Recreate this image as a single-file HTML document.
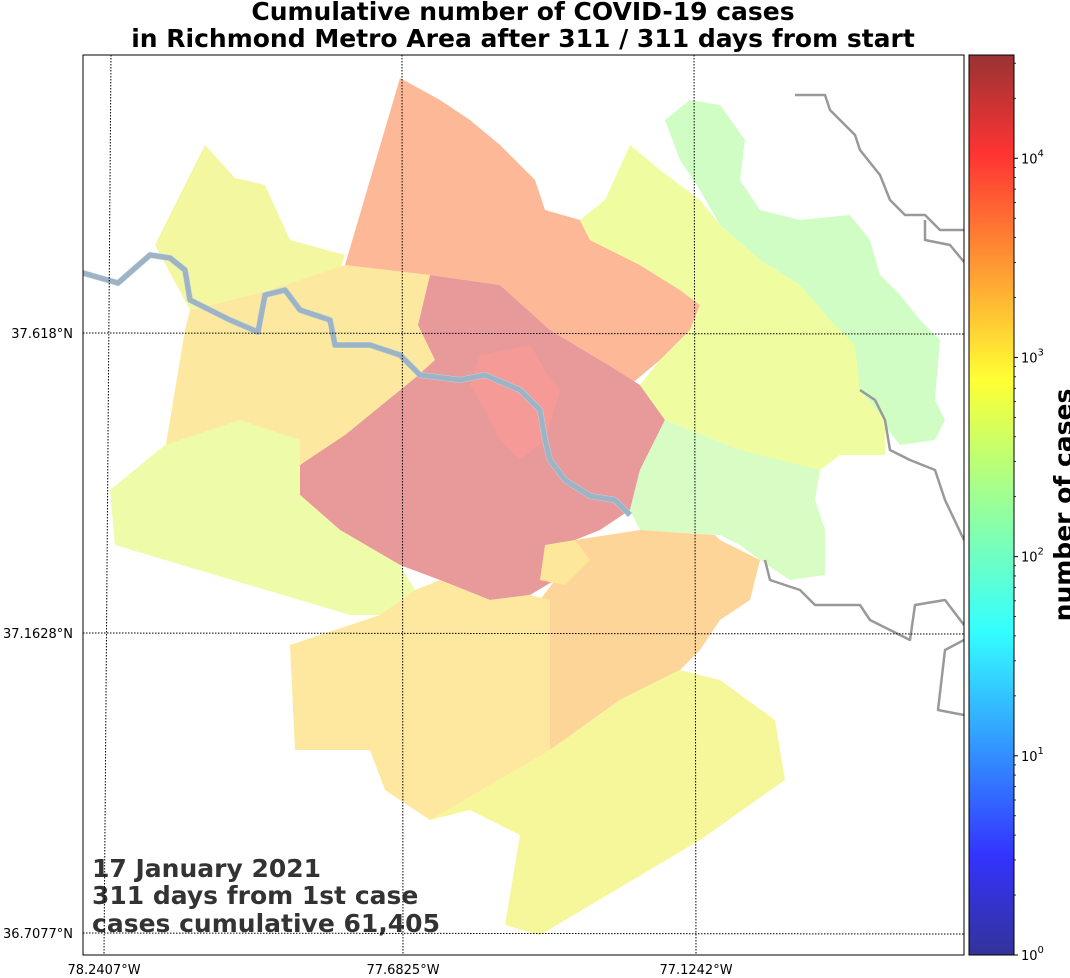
<!DOCTYPE html>
<html><head><meta charset="utf-8"><style>
body{margin:0;background:#fff;width:1070px;height:974px;overflow:hidden;font-family:"DejaVu Sans","Liberation Sans",sans-serif}
svg text{font-family:"DejaVu Sans","Liberation Sans",sans-serif}
</style></head><body>
<svg width="1070" height="974" viewBox="0 0 1070 974" xmlns="http://www.w3.org/2000/svg">
<defs>
<linearGradient id="jet" x1="0" y1="1" x2="0" y2="0">
<stop offset="0" stop-color="#00007f"/><stop offset="0.11" stop-color="#0000ff"/><stop offset="0.36" stop-color="#00ffff"/><stop offset="0.5" stop-color="#7fff7f"/><stop offset="0.64" stop-color="#ffff00"/><stop offset="0.89" stop-color="#ff0000"/><stop offset="1" stop-color="#7f0000"/>
</linearGradient>
<clipPath id="mapclip"><rect x="83" y="55" width="881" height="900"/></clipPath>
</defs>
<text x="523" y="20" text-anchor="middle" font-size="25" font-weight="bold">Cumulative number of COVID-19 cases</text>
<text x="523" y="47" text-anchor="middle" font-size="25" font-weight="bold">in Richmond Metro Area after 311 / 311 days from start</text>
<g id="map" clip-path="url(#mapclip)"></g>
<rect x="83" y="55" width="881" height="900" fill="none" stroke="#000" stroke-width="1"/>
<g id="cb">
<rect x="969" y="55" width="45" height="900" fill="url(#jet)" opacity="0.8"/>
<rect x="969" y="55" width="45" height="900" fill="none" stroke="#000"/>
</g>
<text transform="translate(1072,505) rotate(-90)" text-anchor="middle" font-size="25" font-weight="bold">number of cases</text>
<g fill="#333" font-size="25" font-weight="bold">
<text x="92" y="877">17 January 2021</text>
<text x="92" y="904">311 days from 1st case</text>
<text x="92" y="932">cases cumulative 61,405</text>
</g>
</svg>
<script>
const counties=["Goochland-N","Goochland-S","Hanover","Henrico","Richmond","Powhatan","King William","New Kent","Charles City","Prince George","Dinwiddie","Sussex","Petersburg"];
const fills=["#f3f7a0","#fde8a0","#fdb898","#e89a9a","#f59a96","#eefba8","#d0fdc4","#effda0","#d7fcc4","#fed598","#fee8a0","#f6f79a","#fde79a"];
const shapes=[
"205,145 235,178 265,185 290,240 345,255 340,270 270,290 190,310 155,245",
"190,310 270,290 345,265 430,275 418,325 435,360 415,378 345,435 305,465 250,455 165,450 185,330",
"400,78 440,100 470,120 500,145 535,180 545,210 580,220 590,240 640,265 680,290 700,305 690,330 660,360 630,385 600,360 550,330 500,285 430,275 345,265",
"430,275 500,285 550,330 600,360 640,385 665,420 640,470 630,510 600,530 575,540 555,580 530,595 490,600 440,580 400,565 340,530 300,495 300,465 345,435 415,378 435,360 418,325",
"480,355 530,345 545,370 560,390 545,440 520,460 500,440 485,410 470,385",
"110,490 165,445 240,420 300,440 300,495 340,530 400,565 415,590 380,615 350,615 115,545",
"665,120 690,100 720,105 745,140 740,180 760,210 800,220 850,215 870,240 880,275 900,295 920,320 940,340 935,400 945,420 935,440 900,445 880,420 855,390 845,350 820,310 800,285 760,260 720,225 700,190 680,160",
"630,145 660,170 700,200 720,225 760,260 800,285 830,320 855,345 860,390 885,420 885,455 840,455 820,470 780,465 740,450 665,420 640,385 660,360 690,330 700,305 680,290 640,265 590,240 580,220 605,200",
"665,420 740,450 820,470 815,500 825,530 825,575 790,580 760,560 740,545 720,535 640,530 630,510 640,470",
"575,540 640,530 715,535 720,540 760,560 750,600 720,620 700,650 680,670 620,700 550,750 540,600 555,580",
"290,645 380,615 415,590 440,580 490,600 530,595 550,600 550,750 500,790 430,820 385,790 370,750 295,750",
"430,820 550,750 620,700 680,670 720,680 775,720 785,780 700,840 540,935 505,925 520,835 470,810",
"545,545 575,540 590,560 565,585 540,580"
];
const latTicks=["37.618°N","37.1628°N","36.7077°N"];
const lonTicks=["78.2407°W","77.6825°W","77.1242°W"];
const cbExp=[0,1,2,3,4];
const cbMax=Math.log10(33000);
const NS="http://www.w3.org/2000/svg";
function mk(t,a,p){const e=document.createElementNS(NS,t);for(const k in a)e.setAttribute(k,a[k]);p.appendChild(e);return e;}
const map=document.getElementById('map');
const svg=document.querySelector('svg');
shapes.forEach((s,i)=>{const e=mk('polygon',{points:s,fill:fills[i]},map);

});
const river="83,273 118,283 150,255 170,258 185,270 190,300 230,320 258,332 265,295 285,290 300,310 330,320 335,345 370,345 400,355 420,375 460,380 485,375 520,390 540,410 545,440 550,460 565,480 590,496 615,500 630,515";
let r=mk('polyline',{points:river,fill:'none',stroke:'#b7d4e8','stroke-width':6,'stroke-linejoin':'round'},map);


r=mk('polyline',{points:river,fill:'none',stroke:'#8b98a4','stroke-width':5,'stroke-linejoin':'round',opacity:0.55},map);


const coasts=["795,95 825,95 830,110 855,135 860,150 880,175 890,200 905,215 925,215 940,230 964,230","925,220 925,240 950,245 964,262","860,390 875,400 885,420 890,450 910,460 935,470 945,500 964,540","765,560 770,580 800,590 815,605 860,605 870,620 890,630 910,640 915,605 945,600 964,625","964,640 945,650 938,710 964,715"];
coasts.forEach(c=>{const e=mk('polyline',{points:c,fill:'none',stroke:'#999','stroke-width':2.5,'stroke-linejoin':'round'},map);

});
const latY=[333,633,933], lonX=[[111,104],[402,403],[694,696]];
latTicks.forEach((t,i)=>{let l=mk('line',{x1:83,y1:latY[i],x2:964,y2:latY[i]+1,stroke:'#000','stroke-dasharray':'1.5,1.5','stroke-width':1},svg);


let tx=mk('text',{x:73,y:latY[i]+5,'text-anchor':'end','font-size':13},svg);tx.textContent=t;

});
lonTicks.forEach((t,i)=>{let l=mk('line',{x1:lonX[i][0],y1:55,x2:lonX[i][1],y2:955,stroke:'#000','stroke-dasharray':'1.5,1.5','stroke-width':1},svg);


let tx=mk('text',{x:lonX[i][1],y:974,'text-anchor':'middle','font-size':13},svg);tx.textContent=t;

});
const cb=document.getElementById('cb');
function cbY(e){return 955-e/cbMax*900;}
cbExp.forEach(e=>{const y=cbY(e);
let l=mk('line',{x1:1014,y1:y,x2:1018,y2:y,stroke:'#000'},cb);


let tx=mk('text',{x:1021,y:y+5,'font-size':13},cb);tx.textContent='10';


let s=mk('tspan',{dy:-7,'font-size':10},tx);s.textContent=String(e);});
for(let e=0;e<4.5;e++)for(let m=2;m<10;m++){const v=e+Math.log10(m);if(v>cbMax)continue;const y=cbY(v);
let l=mk('line',{x1:1014,y1:y,x2:1016,y2:y,stroke:'#000','stroke-width':0.8},cb);

}
</script>
</body></html>
